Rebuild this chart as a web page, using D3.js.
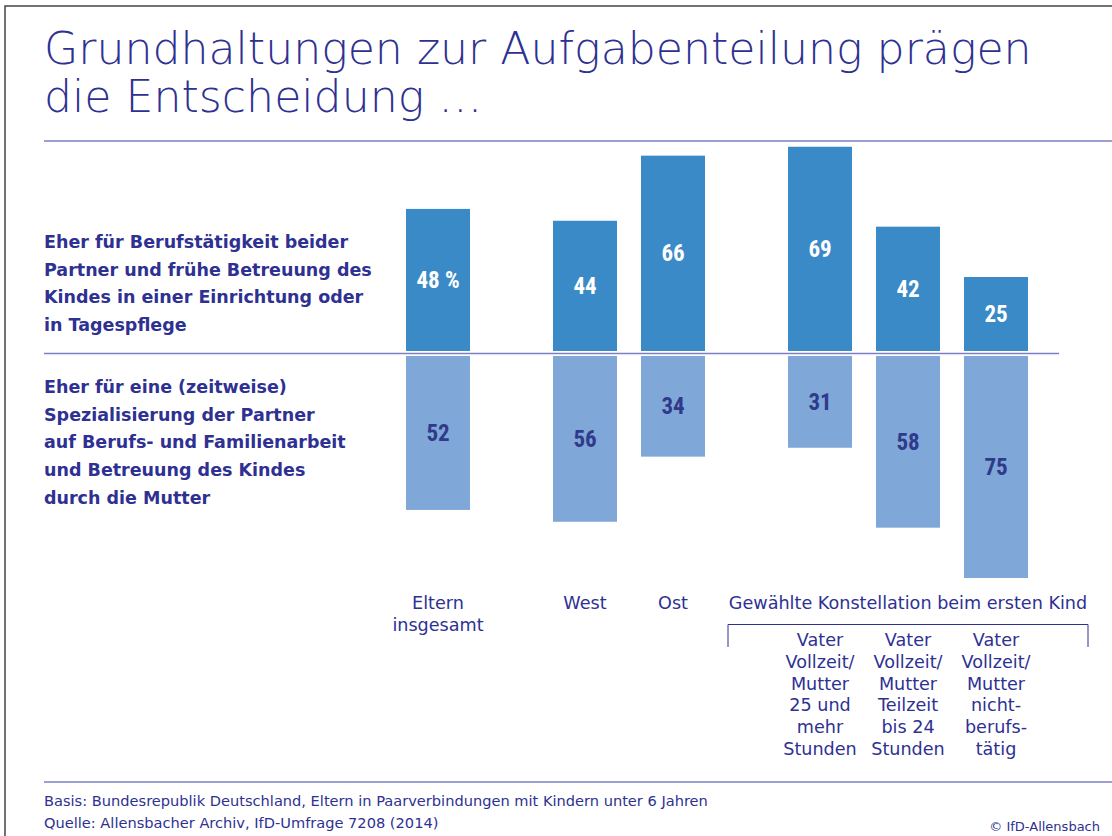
<!DOCTYPE html>
<html>
<head>
<meta charset="utf-8">
<script src="https://cdn.jsdelivr.net/npm/d3@7"></script>
<style>
  html, body { margin: 0; padding: 0; background: #fff; }
  svg { display: block; font-family: "DejaVu Sans", sans-serif; }
</style>
</head>
<body>
<div id="chart"></div>
<script>
const groupIds = ["gesamt", "west", "ost", "v25", "v24", "vnb"];
const sections = [0, 1, 1, 2, 2, 2];
const proBoth = [48, 44, 66, 69, 42, 25];
const proSpecial = [52, 56, 34, 31, 58, 75];
const topLabels = [["Eltern", "insgesamt"], ["West"], ["Ost"], [], [], []];
const subLabels = [
  [],
  [],
  [],
  ["Vater", "Vollzeit/", "Mutter", "25 und", "mehr", "Stunden"],
  ["Vater", "Vollzeit/", "Mutter", "Teilzeit", "bis 24", "Stunden"],
  ["Vater", "Vollzeit/", "Mutter", "nicht-", "berufs-", "tätig"]
];
const bracketLabel = "Gewählte Konstellation beim ersten Kind";
const rowLabelTop = ["Eher für Berufstätigkeit beider", "Partner und frühe Betreuung des", "Kindes in einer Einrichtung oder", "in Tagespflege"];
const rowLabelBottom = ["Eher für eine (zeitweise)", "Spezialisierung der Partner", "auf Berufs- und Familienarbeit", "und Betreuung des Kindes", "durch die Mutter"];
const titleLines = ["Grundhaltungen zur Aufgabenteilung prägen", "die Entscheidung …"];
const footnotes = ["Basis: Bundesrepublik Deutschland, Eltern in Paarverbindungen mit Kindern unter 6 Jahren", "Quelle: Allensbacher Archiv, IfD-Umfrage 7208 (2014)"];
const copyright = "© IfD-Allensbach";

const W = 1112, H = 836;
const navy = "#2e3192";
const ruleColor = "#7b80c6";
const darkBlue = "#3b8ac8";
const lightBlue = "#7fa7d8";
const sectionGap = 59;
const topBase = 351, bottomBase = 356, zeroLine = 353.5;

const svg = d3.select("#chart").append("svg")
  .attr("width", W).attr("height", H)
  .attr("viewBox", `0 0 ${W} ${H}`);

// frame
svg.append("path")
  .attr("d", `M5,${H} V6 H${W}`)
  .attr("fill", "none").attr("stroke", "#444").attr("stroke-width", 1.5);

// title
svg.append("g").selectAll("text")
  .data(titleLines)
  .join("text")
  .attr("x", 44)
  .attr("y", (d, i) => 64 + i * 48)
  .attr("fill", navy)
  .attr("font-size", 44.2)
  .attr("font-weight", 200)
  .text(d => d);

svg.append("line")
  .attr("x1", 44).attr("x2", W).attr("y1", 141).attr("y2", 141)
  .attr("stroke", ruleColor).attr("stroke-width", 1.5);

const band = d3.scaleBand()
  .domain(groupIds)
  .range([406, 406 + 6 * 88 - 24])
  .paddingInner(24 / 88)
  .paddingOuter(0);

const xPos = (i) => band(groupIds[i]) + sections[i] * sectionGap;
const xMid = (i) => xPos(i) + band.bandwidth() / 2;

const h = d3.scaleLinear().domain([0, 100]).range([0, 296]);

const rows = groupIds.map((id, i) => ({ id, i, top: proBoth[i], bottom: proSpecial[i] }));

// top bars
svg.append("g").selectAll("rect")
  .data(rows)
  .join("rect")
  .attr("x", d => xPos(d.i))
  .attr("y", d => topBase - h(d.top))
  .attr("width", band.bandwidth())
  .attr("height", d => h(d.top))
  .attr("fill", darkBlue);

// bottom bars
svg.append("g").selectAll("rect")
  .data(rows)
  .join("rect")
  .attr("x", d => xPos(d.i))
  .attr("y", bottomBase)
  .attr("width", band.bandwidth())
  .attr("height", d => h(d.bottom))
  .attr("fill", lightBlue);

// values
const numFont = "'Liberation Sans Narrow', 'Roboto Condensed', Roboto, sans-serif";
svg.append("g").selectAll("text")
  .data(rows)
  .join("text")
  .attr("x", d => xMid(d.i))
  .attr("y", d => topBase - h(d.top) / 2)
  .attr("dy", "0.35em")
  .attr("text-anchor", "middle")
  .attr("fill", "#fff")
  .attr("font-family", numFont)
  .attr("font-size", 23)
  .attr("font-weight", 700)
  .text(d => d.i === 0 ? `${d.top} %` : d.top);

svg.append("g").selectAll("text")
  .data(rows)
  .join("text")
  .attr("x", d => xMid(d.i))
  .attr("y", d => bottomBase + h(d.bottom) / 2)
  .attr("dy", "0.35em")
  .attr("text-anchor", "middle")
  .attr("fill", "#2f3a8a")
  .attr("font-family", numFont)
  .attr("font-size", 23)
  .attr("font-weight", 700)
  .text(d => d.bottom);

// zero rule
svg.append("line")
  .attr("x1", 44).attr("x2", 1059).attr("y1", zeroLine).attr("y2", zeroLine)
  .attr("stroke", ruleColor).attr("stroke-width", 1.5);

// row labels
svg.append("g").selectAll("text")
  .data(rowLabelTop)
  .join("text")
  .attr("x", 44)
  .attr("y", (d, i) => 248 + i * 27.7)
  .attr("fill", navy)
  .attr("font-size", 17.5)
  .attr("font-weight", 700)
  .text(d => d);

svg.append("g").selectAll("text")
  .data(rowLabelBottom)
  .join("text")
  .attr("x", 44)
  .attr("y", (d, i) => 393 + i * 27.7)
  .attr("fill", navy)
  .attr("font-size", 17.5)
  .attr("font-weight", 700)
  .text(d => d);

// category labels
const cat = svg.append("g").attr("fill", navy).attr("font-size", 17.6).attr("text-anchor", "middle");
rows.forEach(d => {
  topLabels[d.i].forEach((line, j) => {
    cat.append("text").attr("x", xMid(d.i)).attr("y", 609 + j * 22).text(line);
  });
  subLabels[d.i].forEach((line, j) => {
    cat.append("text").attr("x", xMid(d.i)).attr("y", 646 + j * 21.8).text(line);
  });
});

const bx0 = 728, bx1 = 1088;
cat.append("text").attr("x", (bx0 + bx1) / 2).attr("y", 609).text(bracketLabel);
svg.append("path")
  .attr("d", `M${bx0},647 V624.5 H${bx1} V647`)
  .attr("fill", "none").attr("stroke", navy).attr("stroke-width", 1);

// footer
svg.append("line")
  .attr("x1", 44).attr("x2", W).attr("y1", 782).attr("y2", 782)
  .attr("stroke", ruleColor).attr("stroke-width", 1.5);

svg.append("g").selectAll("text")
  .data(footnotes)
  .join("text")
  .attr("x", 44)
  .attr("y", (d, i) => 806 + i * 22)
  .attr("fill", navy)
  .attr("font-size", 14.6)
  .text(d => d);

svg.append("text")
  .attr("x", 1100).attr("y", 831)
  .attr("text-anchor", "end")
  .attr("fill", navy)
  .attr("font-size", 13)
  .text(copyright);
</script>
</body>
</html>
